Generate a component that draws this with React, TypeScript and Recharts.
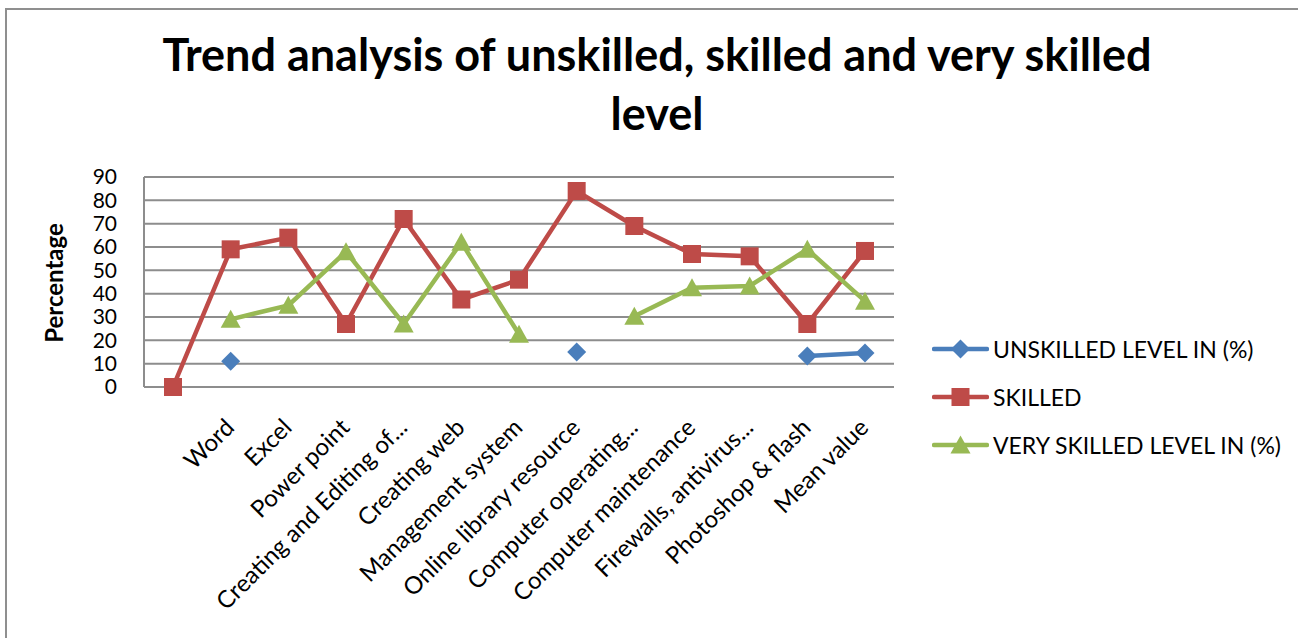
import { LineChart, Line, XAxis, YAxis, CartesianGrid, Legend, Label } from 'recharts';

const categories = [
  '',
  'Word',
  'Excel',
  'Power point',
  'Creating and Editing of...',
  'Creating web',
  'Management system',
  'Online library resource',
  'Computer operating...',
  'Computer maintenance',
  'Firewalls, antivirus...',
  'Photoshop & flash',
  'Mean value',
];
const unskilledLevel = [null, 11, null, null, null, null, null, 15, null, null, null, 13.3, 14.6];
const skilledLevel = [0, 59, 64, 27, 72, 37.5, 46, 84, 69, 57, 56, 27, 58.3];
const verySkilledLevel = [null, 29, 35, 58, 27, 62, 22.6, null, 30.3, 42.5, 43.3, 59, 36.8];
const yTicks = [0, 10, 20, 30, 40, 50, 60, 70, 80, 90];

const chartData = categories.map((name, i) => ({
  name,
  unskilled: unskilledLevel[i],
  skilled: skilledLevel[i],
  verySkilled: verySkilledLevel[i],
}));

const seriesInfo = [
  { key: 'unskilled', name: 'UNSKILLED LEVEL IN (%)', color: '#4A7EBB', marker: 'diamond' },
  { key: 'skilled', name: 'SKILLED', color: '#BE4B48', marker: 'square' },
  { key: 'verySkilled', name: 'VERY SKILLED LEVEL IN (%)', color: '#98B954', marker: 'triangle' },
];

const FONT = 'Lato, "Open Sans", sans-serif';

function markerShape(kind: string, cx: number, cy: number, color: string) {
  if (kind === 'square') {
    return <rect x={cx - 9} y={cy - 9} width={18} height={18} fill={color} />;
  }
  if (kind === 'diamond') {
    return (
      <polygon
        points={`${cx},${cy - 9.5} ${cx + 9.5},${cy} ${cx},${cy + 9.5} ${cx - 9.5},${cy}`}
        fill={color}
      />
    );
  }
  return (
    <polygon points={`${cx},${cy - 9.5} ${cx + 10},${cy + 8.5} ${cx - 10},${cy + 8.5}`} fill={color} />
  );
}

const makeDot = (kind: string, color: string) => (props: any) => {
  const { cx, cy, index, value } = props;
  if (value == null || cx == null || cy == null) return <g key={index} />;
  return <g key={index}>{markerShape(kind, cx, cy, color)}</g>;
};

const CategoryTick = (props: any) => {
  const { x, y, payload } = props;
  const ax = x + 5;
  const ay = y + 34;
  return (
    <text
      x={ax}
      y={ay}
      transform={`rotate(-45 ${ax} ${ay})`}
      textAnchor="end"
      fontSize={24}
      fontFamily={FONT}
      fill="#000"
    >
      {payload.value}
    </text>
  );
};

const renderLegend = () => (
  <div style={{ fontFamily: FONT, fontSize: 23, color: '#000' }}>
    {seriesInfo.map((s) => (
      <div key={s.key} style={{ display: 'flex', alignItems: 'center', height: 48 }}>
        <svg width={57} height={24}>
          <line x1={2} y1={12} x2={55} y2={12} stroke={s.color} strokeWidth={4.5} strokeLinecap="round" />
          {markerShape(s.marker, 28.5, 12, s.color)}
        </svg>
        <span style={{ marginLeft: 4, whiteSpace: 'nowrap' }}>{s.name}</span>
      </div>
    ))}
  </div>
);

export default function App() {
  return (
    <>
      <style>{`html, body { margin: 0; overflow: hidden; background: #fff; }`}</style>
      <div style={{ position: 'absolute', left: 5, top: 8, width: 1293, height: 630 }}>
        <div
          style={{
            position: 'absolute',
            left: 0,
            top: 0,
            width: 1293,
            height: 630,
            borderTop: '2px solid #8f8f8f',
            borderLeft: '2px solid #8f8f8f',
            boxSizing: 'border-box',
          }}
        />
        <div
          style={{
            position: 'absolute',
            left: 0,
            top: 17,
            width: 1304,
            textAlign: 'center',
            fontFamily: FONT,
            fontWeight: 700,
            fontSize: 45,
            lineHeight: '59px',
            color: '#000',
          }}
        >
          Trend analysis of unskilled, skilled and very skilled
          <br />
          level
        </div>
        <div style={{ position: 'absolute', left: 0, top: 0 }}>
          <LineChart
            width={1290}
            height={630}
            data={chartData}
            margin={{ top: 169, right: 401, left: 0, bottom: 51 }}
          >
            <CartesianGrid vertical={false} stroke="#8d8d8d" strokeWidth={2} />
            <XAxis
              dataKey="name"
              interval={0}
              padding={{ left: 29, right: 29 }}
              tickLine={false}
              axisLine={{ stroke: '#8d8d8d', strokeWidth: 2 }}
              height={200}
              tick={<CategoryTick />}
            />
            <YAxis
              domain={[0, 90]}
              ticks={yTicks}
              interval={0}
              width={139}
              tickLine={false}
              tickSize={0}
              tickMargin={27}
              axisLine={{ stroke: '#8d8d8d', strokeWidth: 2 }}
              tick={{ fill: '#000', fontSize: 21, fontFamily: FONT }}
            >
              <Label
                content={() => (
                  <text
                    x={58}
                    y={275}
                    transform="rotate(-90 58 275)"
                    textAnchor="middle"
                    fontFamily={FONT}
                    fontWeight={700}
                    fontSize={24}
                    fill="#000"
                  >
                    Percentage
                  </text>
                )}
              />
            </YAxis>
            <Legend
              layout="vertical"
              align="center"
              verticalAlign="middle"
              wrapperStyle={{ left: 927, top: 317, width: 370 }}
              content={renderLegend}
            />
            {seriesInfo.map((s) => (
              <Line
                key={s.key}
                type="linear"
                dataKey={s.key}
                name={s.name}
                stroke={s.color}
                strokeWidth={4.5}
                dot={makeDot(s.marker, s.color)}
                activeDot={false}
                isAnimationActive={false}
              />
            ))}
          </LineChart>
        </div>
      </div>
    </>
  );
}
